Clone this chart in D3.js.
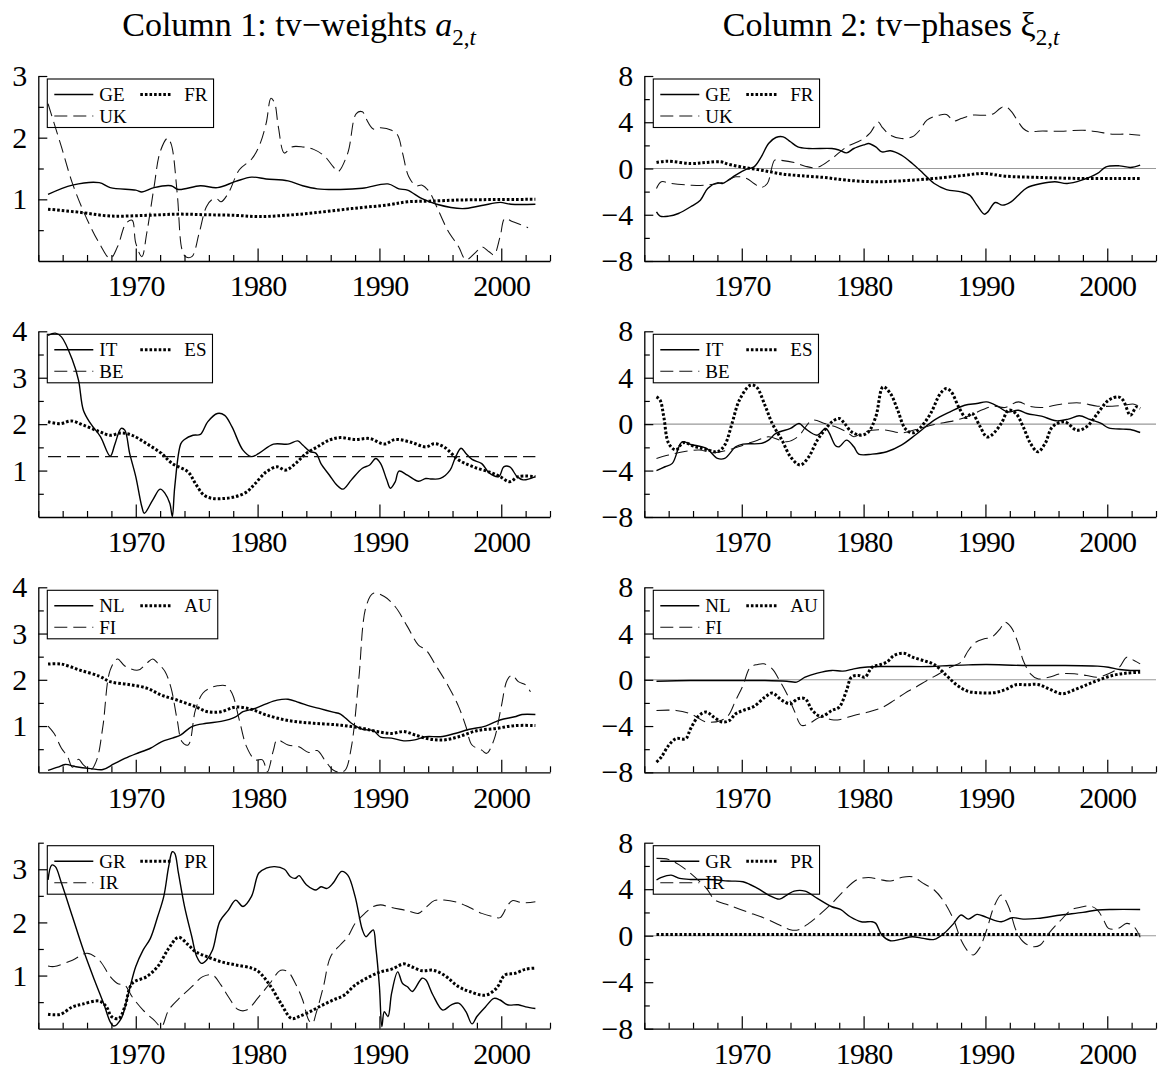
<!DOCTYPE html>
<html><head><meta charset="utf-8">
<script src="https://cdn.jsdelivr.net/npm/d3@7"></script>
<style>
body{margin:0;background:#fff}
text{font-family:"Liberation Serif","Times New Roman",serif;fill:#000}
</style>
</head><body>
<svg id="chart" width="1160" height="1071"></svg>
<script>
// ---------------- DATA (year, value) ----------------
const GE_a = [[1962.8,1.08],[1964.8,1.23],[1967.0,1.27],[1967.9,1.19],[1970,1.15],[1970.5,1.12],[1971.5,1.19],[1972.9,1.22],[1973.5,1.16],[1975.3,1.22],[1976.7,1.19],[1978.2,1.29],[1979.5,1.36],[1980.7,1.33],[1982.5,1.30],[1983.7,1.22],[1984.9,1.17],[1986.8,1.16],[1988.6,1.18],[1990.7,1.25],[1991.6,1.17],[1992.3,1.15],[1993.5,1.01],[1994.7,0.92],[1996.8,0.85],[1998.4,0.90],[1999.9,0.95],[2000.8,0.92],[2002.8,0.92]];
const FR_a = [[1962.8,0.84],[1965.4,0.79],[1967.9,0.73],[1970.9,0.74],[1973.4,0.76],[1975.8,0.75],[1978.2,0.74],[1980.1,0.72],[1982.2,0.74],[1984.6,0.78],[1987.7,0.85],[1990.7,0.91],[1992.3,0.96],[1994.1,0.97],[1996.8,0.99],[2002.8,1.0]];
const UK_a = [[1962.8,2.55],[1963.9,1.85],[1964.8,1.26],[1965.9,0.72],[1967,0.29],[1967.9,0.04],[1968.5,0.23],[1969.2,0.61],[1969.7,0.66],[1970,0.29],[1970.5,0.07],[1970.9,0.45],[1971.5,1.2],[1972,1.77],[1972.6,1.99],[1972.9,1.9],[1973.4,1.1],[1973.8,0.18],[1974.1,0.07],[1974.6,0.07],[1975.2,0.45],[1975.8,0.88],[1976.3,1.0],[1976.7,1.0],[1977,0.96],[1977.6,1.1],[1978.5,1.48],[1979.5,1.65],[1980.1,1.85],[1980.7,2.23],[1981.1,2.64],[1981.4,2.56],[1981.7,2.18],[1982.2,1.75],[1982.8,1.85],[1983.7,1.85],[1984.6,1.81],[1985.5,1.7],[1986.2,1.53],[1986.6,1.45],[1987.4,1.75],[1988.1,2.39],[1988.6,2.42],[1988.9,2.31],[1989.5,2.14],[1990.1,2.16],[1991,2.12],[1991.5,2.04],[1991.9,1.75],[1992.4,1.37],[1993,1.22],[1993.5,1.23],[1994.1,1.12],[1994.7,0.88],[1995.6,0.5],[1996.5,0.23],[1997.1,0.02],[1997.9,0.14],[1998.4,0.23],[1999,0.15],[1999.4,0.10],[1999.9,0.39],[2000.3,0.69],[2000.9,0.64],[2001.7,0.58],[2002.2,0.54]];

const GE_x = [[1963,-3.75],[1963.3,-4.12],[1964,-4.12],[1964.8,-3.89],[1965.8,-3.31],[1966.6,-2.74],[1967.2,-1.73],[1968,-1.24],[1968.4,-1.3],[1968.9,-1.01],[1969.5,-0.58],[1970.4,-0.06],[1971,0.14],[1971.6,1.01],[1972.2,2.16],[1972.8,2.68],[1973.4,2.74],[1974,2.31],[1974.6,1.87],[1975.5,1.73],[1977.4,1.73],[1978,1.59],[1978.6,1.35],[1979.2,1.73],[1980.1,2.07],[1980.4,2.16],[1981,1.87],[1981.5,1.44],[1982.2,1.53],[1983.1,1.15],[1984,0.43],[1984.9,-0.43],[1985.8,-1.3],[1986.8,-1.82],[1988,-2.02],[1988.7,-2.3],[1989.3,-3.17],[1989.9,-3.95],[1990.2,-3.75],[1990.8,-2.94],[1991.4,-3.17],[1992.1,-2.88],[1992.7,-2.31],[1993.4,-1.67],[1994.6,-1.3],[1995.7,-1.15],[1996.7,-1.3],[1997.9,-1.01],[1999.2,-0.43],[1999.9,0.14],[2001,0.23],[2001.9,0.09],[2002.7,0.29]];
const FR_x = [[1963,0.52],[1963.9,0.63],[1965.8,0.43],[1967.1,0.52],[1968.3,0.58],[1968.9,0.37],[1970.4,0.06],[1971.9,-0.2],[1973.4,-0.49],[1974.9,-0.63],[1976.8,-0.78],[1978.6,-1.01],[1981,-1.15],[1982.5,-1.1],[1984,-1.01],[1985.8,-0.86],[1988.3,-0.58],[1989.9,-0.43],[1991.6,-0.66],[1994.6,-0.78],[1997.7,-0.86],[2000.7,-0.86],[2002.7,-0.86]];
const UK_x = [[1963,-1.73],[1963.4,-1.15],[1964.2,-1.3],[1965.8,-1.44],[1967.1,-1.44],[1968.6,-1.15],[1969.5,-0.72],[1970.4,-0.86],[1971,-1.3],[1971.6,-1.64],[1972.1,-1.3],[1972.7,0.72],[1973.1,0.72],[1974.3,0.52],[1975.2,0.2],[1976.2,0.09],[1977.4,0.86],[1978.6,1.87],[1979.8,2.45],[1980.5,3.03],[1981.2,4.03],[1981.5,3.6],[1982.2,2.88],[1983.1,2.59],[1984,2.74],[1984.6,3.31],[1985.2,4.18],[1986.2,4.61],[1986.8,4.67],[1987.4,4.12],[1988,4.32],[1988.9,4.61],[1990.1,4.61],[1990.7,4.76],[1991.2,5.19],[1991.6,5.39],[1992.1,4.96],[1992.7,4.03],[1993.1,3.46],[1993.6,3.17],[1994.3,3.23],[1996.2,3.23],[1998,3.31],[1999.2,3.17],[2000.4,2.97],[2001.6,2.97],[2002.7,2.88]];

const IT_a = [[1962.8,3.91],[1963.4,3.96],[1963.9,3.88],[1964.8,3.38],[1965.3,2.95],[1965.7,2.3],[1966.3,2.01],[1967.1,1.73],[1967.9,1.31],[1968.3,1.58],[1968.8,1.91],[1969.1,1.87],[1969.5,1.37],[1970,0.87],[1970.5,0.22],[1970.7,0.08],[1971.4,0.37],[1972,0.6],[1972.4,0.51],[1972.8,0.29],[1973,0.01],[1973.2,0.65],[1973.7,1.58],[1974,1.67],[1974.7,1.76],[1975.3,1.78],[1975.9,2.05],[1976.7,2.23],[1977.3,2.19],[1977.9,1.94],[1978.8,1.44],[1979.5,1.3],[1980.1,1.37],[1981.3,1.57],[1982.5,1.57],[1983.3,1.64],[1983.7,1.55],[1984.3,1.41],[1984.8,1.37],[1985.2,1.15],[1985.9,0.9],[1986.5,0.69],[1987,0.6],[1987.7,0.8],[1988.6,1.05],[1989.2,1.12],[1989.7,1.26],[1990.1,1.15],[1990.6,0.8],[1990.9,0.62],[1991.3,0.76],[1991.6,0.99],[1992.3,0.9],[1993.2,0.77],[1993.8,0.83],[1994.2,0.82],[1995,0.83],[1995.8,1.01],[1996.2,1.26],[1996.7,1.48],[1997.1,1.37],[1997.6,1.24],[1998.4,1.15],[1999,0.95],[1999.8,0.87],[2000.2,1.08],[2000.7,1.08],[2001.3,0.87],[2001.8,0.8],[2002.8,0.87]];
const ES_a = [[1962.8,2.05],[1963.8,2.01],[1964.7,2.07],[1965.7,1.98],[1967,1.84],[1967.9,1.76],[1968.8,1.81],[1969.7,1.76],[1970.9,1.58],[1972.1,1.37],[1973,1.15],[1974.3,0.97],[1974.9,0.72],[1975.6,0.47],[1976.3,0.4],[1977.3,0.4],[1978.2,0.44],[1979.1,0.54],[1979.8,0.72],[1980.7,0.97],[1981.6,1.08],[1982.3,1.01],[1983.1,1.15],[1984,1.37],[1984.9,1.51],[1985.9,1.66],[1986.8,1.71],[1988,1.67],[1989.2,1.69],[1990.4,1.57],[1991.3,1.67],[1992.6,1.61],[1993.8,1.51],[1994.5,1.58],[1995.3,1.51],[1996.5,1.23],[1997.7,1.08],[1999,0.97],[1999.9,0.87],[2000.7,0.76],[2001.4,0.87],[2002.8,0.87]];
const BE_a = [[1962.8,1.3],[2002.8,1.3]];

const IT_x = [[1963,-4.01],[1963.7,-3.67],[1964.3,-3.38],[1965.1,-1.52],[1965.8,-1.75],[1967.1,-2.09],[1968,-2.95],[1968.6,-2.95],[1969.5,-1.95],[1970.1,-1.72],[1971.6,-1.66],[1972.2,-1.38],[1972.8,-0.8],[1974,-0.37],[1974.7,0.06],[1975.2,-0.37],[1976.2,-0.95],[1976.9,-0.37],[1977.7,-1.86],[1978,-1.95],[1978.6,-1.38],[1979.2,-1.95],[1979.6,-2.58],[1980.7,-2.58],[1981.9,-2.38],[1983.1,-1.81],[1984.3,-0.89],[1985.8,0.34],[1987.1,1.06],[1988.3,1.63],[1989.3,1.78],[1990.1,1.92],[1991,1.55],[1991.8,1.06],[1992.7,1.2],[1993.4,0.92],[1994.6,0.69],[1995.8,0.29],[1996.8,0.43],[1997.7,0.72],[1998.6,0.4],[1999.5,0.06],[2000.1,-0.32],[2001.3,-0.43],[2001.9,-0.46],[2002.7,-0.72]];
const ES_x = [[1963,2.35],[1963.3,2.06],[1963.6,0.63],[1964,-1.66],[1964.6,-2.23],[1965.2,-1.6],[1966.2,-1.95],[1967.1,-2.18],[1968,-2.38],[1968.6,-1.81],[1969.2,0.06],[1969.8,2.06],[1970.7,3.35],[1971.2,3.21],[1971.9,1.63],[1972.5,0.06],[1973.3,-1.38],[1974,-2.81],[1974.8,-3.52],[1975.5,-2.81],[1976.2,-1.38],[1976.8,-0.52],[1977.4,0.2],[1978,0.49],[1978.4,0.11],[1979,-0.66],[1979.8,-0.95],[1980.4,-0.66],[1981,0.63],[1981.6,3.21],[1982.2,2.64],[1982.8,1.2],[1983.4,-0.37],[1984,-0.75],[1984.6,-0.37],[1985.5,0.92],[1986.3,2.64],[1986.8,3.07],[1987.2,2.78],[1987.8,1.49],[1988.4,0.57],[1988.9,0.92],[1989.5,-0.09],[1990.1,-1.09],[1990.5,-0.95],[1991.3,0.06],[1991.9,1.2],[1992.5,0.92],[1993.1,-0.23],[1993.7,-1.66],[1994.3,-2.38],[1994.9,-1.66],[1995.5,-0.23],[1996.5,0.2],[1997.5,-0.52],[1998.3,-0.23],[1999.2,0.92],[2000.1,2.06],[2000.9,2.35],[2001.3,2.06],[2001.9,0.77],[2002.4,1.49],[2002.7,1.35]];
const BE_x = [[1963,-2.95],[1964,-2.66],[1965.2,-2.38],[1966.5,-2.23],[1967.7,-2.46],[1968.9,-2.23],[1970.1,-1.81],[1971.3,-1.38],[1972.2,-1.09],[1973.7,-1.52],[1974.6,-1.09],[1975.8,0.34],[1976.8,0.06],[1977.7,-0.23],[1978.6,-0.66],[1979.2,-1.09],[1979.8,-0.8],[1980.7,-0.52],[1981.9,-0.52],[1983.1,-0.75],[1984.3,-0.46],[1985.8,-0.03],[1987.4,0.29],[1988.6,0.69],[1989.8,1.26],[1990.7,1.55],[1991.6,1.43],[1992.7,1.92],[1993.6,1.55],[1994.6,1.43],[1996.2,1.72],[1997.7,1.83],[1999.2,1.55],[2000.4,1.55],[2001.3,1.63],[2002.2,1.72],[2002.7,1.49]];

const NL_a = [[1962.8,0.04],[1963.6,0.11],[1964.2,0.17],[1965.1,0.12],[1966.3,0.08],[1967.3,0.06],[1968.2,0.18],[1969.1,0.3],[1970,0.4],[1971.2,0.52],[1972.1,0.66],[1973,0.74],[1973.7,0.81],[1974.6,0.99],[1975.8,1.06],[1977,1.1],[1978.2,1.2],[1978.8,1.31],[1979.8,1.38],[1980.7,1.48],[1981.6,1.56],[1982.5,1.58],[1983.4,1.51],[1984.3,1.43],[1985.2,1.37],[1986.2,1.3],[1986.8,1.26],[1987.7,1.06],[1988.6,0.93],[1989.5,0.9],[1990.1,0.76],[1991,0.74],[1992,0.68],[1992.9,0.7],[1993.8,0.77],[1995,0.77],[1996.2,0.84],[1997.4,0.93],[1998.7,1.0],[1999.9,1.13],[2001.1,1.2],[2001.7,1.25],[2002.8,1.25]];
const AU_a = [[1962.8,2.34],[1963.9,2.34],[1965.4,2.21],[1967,2.08],[1967.9,1.96],[1969.4,1.9],[1970.9,1.82],[1972.1,1.67],[1973.4,1.56],[1974.9,1.42],[1975.9,1.31],[1977,1.31],[1978.2,1.41],[1979.5,1.36],[1980.7,1.24],[1982.5,1.12],[1984.6,1.06],[1986.8,1.02],[1988.6,0.95],[1989.8,0.88],[1991,0.84],[1992,0.88],[1992.9,0.81],[1994.1,0.72],[1995.3,0.7],[1996.5,0.77],[1998,0.9],[1999.6,0.95],[2001.1,1.01],[2002.8,1.01]];
const FI_a = [[1962.8,1.0],[1963.3,0.84],[1963.9,0.52],[1964.4,0.34],[1964.8,0.11],[1965.3,0.28],[1965.7,0.16],[1966.3,0.05],[1966.8,0.27],[1967.3,0.99],[1967.9,2.21],[1968.5,2.45],[1969.1,2.3],[1970.2,2.21],[1970.9,2.36],[1971.4,2.45],[1971.8,2.36],[1972.4,2.18],[1972.9,1.82],[1973.4,1.13],[1973.8,0.66],[1974.3,0.59],[1974.9,1.35],[1975.5,1.71],[1976.1,1.82],[1976.7,1.87],[1977.4,1.87],[1977.9,1.71],[1978.5,1.13],[1979.1,0.55],[1979.8,0.27],[1980.4,0.27],[1980.8,0.01],[1981.3,0.48],[1981.6,0.7],[1982.5,0.59],[1983.4,0.55],[1984.2,0.43],[1984.9,0.47],[1985.5,0.27],[1986.2,0.05],[1986.8,0.0],[1987.2,0.05],[1987.7,0.55],[1988.3,2.0],[1988.9,3.58],[1989.5,3.87],[1990.4,3.8],[1991.3,3.58],[1992.3,3.15],[1993.2,2.75],[1993.8,2.65],[1994.7,2.28],[1995.6,1.89],[1996.5,1.42],[1997.1,0.99],[1997.6,0.59],[1998.4,0.48],[1998.8,0.41],[1999.4,0.7],[2000,1.42],[2000.5,2.0],[2000.9,2.1],[2001.4,1.96],[2002,1.89],[2002.4,1.74]];

const NL_x = [[1963,-0.12],[1965.8,-0.06],[1968.9,-0.06],[1971.9,-0.06],[1973.7,-0.12],[1974.5,-0.2],[1975.2,0.23],[1976.2,0.58],[1977.4,0.81],[1978.3,0.75],[1979.2,0.95],[1980.1,1.09],[1981.3,1.15],[1983.1,1.15],[1985.5,1.15],[1987.1,1.24],[1988.6,1.29],[1990.1,1.32],[1993.1,1.24],[1996.2,1.24],[1999.2,1.18],[2000.1,1.09],[2001,0.89],[2001.9,0.81],[2002.7,0.81]];
const AU_x = [[1963,-7.11],[1963.4,-6.68],[1964,-5.67],[1964.6,-5.09],[1965.4,-5.09],[1965.8,-4.23],[1966.5,-3.08],[1967.1,-2.79],[1967.7,-3.22],[1968.4,-3.65],[1969,-3.51],[1969.5,-2.94],[1970.1,-2.65],[1971,-2.3],[1971.9,-1.5],[1972.5,-1.15],[1973.3,-1.78],[1974,-2.07],[1974.6,-1.64],[1975.2,-1.64],[1975.8,-2.65],[1976.5,-3.17],[1977.4,-2.65],[1978,-2.36],[1978.6,-0.92],[1979,0.23],[1979.6,0.37],[1980.1,0.23],[1980.7,1.09],[1981.3,1.29],[1981.9,1.53],[1982.5,2.1],[1983.3,2.3],[1984,1.96],[1984.9,1.67],[1985.8,1.32],[1986.8,0.37],[1987.7,-0.49],[1988.6,-1.01],[1989.5,-1.12],[1990.7,-1.12],[1991.6,-0.86],[1992.5,-0.43],[1993.4,-0.43],[1994.3,-0.4],[1995.2,-0.78],[1996.3,-1.21],[1997.3,-0.86],[1998.3,-0.43],[1999.2,-0.06],[2000.4,0.37],[2001.6,0.58],[2002.7,0.66]];
const FI_x = [[1963,-2.65],[1964.6,-2.65],[1965.8,-2.94],[1967.1,-3.65],[1968.3,-3.51],[1968.9,-3.08],[1969.5,-1.78],[1970.1,-0.49],[1970.7,1.09],[1971.3,1.32],[1971.8,1.38],[1972.5,0.95],[1973.1,-0.06],[1973.7,-1.21],[1974.3,-2.65],[1974.9,-3.94],[1975.5,-3.8],[1976.5,-3.22],[1977.4,-3.45],[1978,-3.45],[1979.2,-3.08],[1980.4,-2.79],[1981.6,-2.36],[1982.5,-1.78],[1983.4,-1.15],[1984.3,-0.63],[1985.2,-0.06],[1986.2,0.52],[1987.1,1.09],[1988,1.53],[1988.6,2.53],[1989.2,3.25],[1989.9,3.54],[1990.5,3.68],[1991.2,4.4],[1991.6,4.98],[1992.1,4.55],[1992.7,3.11],[1993.1,1.67],[1993.7,0.52],[1994.3,0.09],[1995.2,0.23],[1996.2,0.52],[1997.3,0.52],[1998.3,0.37],[1999.2,0.23],[2000.1,0.52],[2001,1.09],[2001.6,1.96],[2002.2,1.67],[2002.7,1.38]];

const GR_a = [[1962.8,2.8],[1963.1,3.08],[1963.4,3.05],[1963.9,2.74],[1964.8,2.11],[1965.7,1.48],[1966.6,0.92],[1967.4,0.45],[1967.9,0.13],[1968.2,0.05],[1968.8,0.19],[1969.4,0.67],[1970,1.17],[1970.6,1.48],[1971.2,1.7],[1971.8,2.11],[1972.3,2.49],[1972.7,3.05],[1973,3.33],[1973.2,3.3],[1973.5,2.93],[1974,2.3],[1974.6,1.73],[1975,1.36],[1975.4,1.23],[1975.8,1.29],[1976.3,1.48],[1976.9,2.02],[1977.6,2.23],[1978.2,2.42],[1978.8,2.3],[1979.5,2.49],[1980.1,2.93],[1980.7,3.02],[1981.4,3.05],[1982.2,3.0],[1982.7,2.86],[1983.1,2.83],[1983.4,2.88],[1984,2.71],[1984.8,2.61],[1985.2,2.67],[1985.7,2.64],[1986.2,2.74],[1986.9,2.96],[1987.4,2.89],[1988,2.49],[1988.6,1.86],[1988.9,1.73],[1989.2,1.8],[1989.5,1.86],[1989.7,1.54],[1990,0.79],[1990.2,0.04],[1990.4,0.32],[1990.7,0.23],[1991,0.67],[1991.5,1.07],[1991.9,0.85],[1992.3,0.79],[1992.7,0.7],[1993.5,0.95],[1993.8,0.92],[1994.4,0.63],[1995.2,0.35],[1995.9,0.45],[1996.5,0.48],[1997.1,0.32],[1997.6,0.09],[1998,0.23],[1998.7,0.41],[1999.4,0.57],[1999.9,0.54],[2000.5,0.45],[2001.4,0.45],[2002,0.41],[2002.8,0.38]];
const PR_a = [[1962.8,0.27],[1963.8,0.27],[1964.8,0.41],[1965.6,0.46],[1967,0.52],[1967.6,0.41],[1968,0.23],[1968.6,0.19],[1969.1,0.41],[1969.7,0.85],[1970.9,0.98],[1971.8,1.17],[1972.7,1.51],[1973.5,1.72],[1974.3,1.58],[1974.9,1.45],[1975.8,1.36],[1977,1.26],[1978.2,1.2],[1979.5,1.14],[1980.1,1.07],[1981,0.82],[1981.9,0.48],[1982.8,0.19],[1983.4,0.23],[1984.3,0.32],[1985.2,0.43],[1986.2,0.54],[1987.1,0.63],[1988,0.82],[1989.2,0.98],[1990.1,1.07],[1991,1.12],[1992,1.22],[1992.6,1.17],[1993.5,1.09],[1994.4,1.1],[1995.3,1.01],[1996.5,0.79],[1997.4,0.7],[1998.7,0.63],[1999.6,0.76],[2000.3,1.01],[2001.1,1.04],[2002,1.12],[2002.8,1.14]];
const IR_a = [[1962.8,1.18],[1963.3,1.17],[1964.8,1.29],[1966,1.42],[1967,1.29],[1967.9,0.98],[1968.5,0.85],[1969.1,0.82],[1969.7,0.6],[1970.6,0.35],[1971.5,0.16],[1972.1,0.04],[1972.7,0.35],[1973.7,0.6],[1974.6,0.79],[1975.5,0.98],[1976.3,1.01],[1977,0.82],[1977.6,0.6],[1978.4,0.36],[1979.1,0.35],[1980.1,0.6],[1981,0.85],[1981.9,1.1],[1982.5,1.07],[1983.1,0.85],[1983.7,0.54],[1984.2,0.16],[1984.5,0.1],[1984.8,0.29],[1985.4,0.79],[1986,1.36],[1986.8,1.58],[1987.4,1.73],[1988,1.98],[1988.8,2.17],[1989.5,2.3],[1990.1,2.33],[1991,2.28],[1992.3,2.22],[1993.2,2.17],[1993.8,2.28],[1994.5,2.41],[1995.3,2.42],[1996.5,2.37],[1997.4,2.28],[1998.4,2.17],[1999.3,2.11],[1999.9,2.09],[2000.5,2.31],[2000.9,2.41],[2001.7,2.37],[2002.8,2.39]];

const GR_x = [[1963,4.79],[1963.4,5.01],[1964.2,5.21],[1964.9,4.93],[1965.8,4.84],[1967.4,4.84],[1968.9,4.7],[1970.1,4.64],[1971.3,4.07],[1972.2,3.5],[1973.1,3.15],[1973.7,3.5],[1974.3,3.84],[1975.2,3.84],[1976.2,3.21],[1977.4,2.49],[1978.1,2.26],[1978.9,1.63],[1979.8,1.2],[1980.7,1.2],[1981,1.06],[1981.5,0.06],[1982.2,-0.43],[1983.1,-0.29],[1984,-0.09],[1984.9,-0.23],[1985.8,-0.32],[1986.6,0.2],[1987.4,1.06],[1988,1.78],[1988.6,1.43],[1989.3,1.83],[1990.1,1.58],[1991.3,1.2],[1992.2,1.55],[1993.1,1.43],[1994.3,1.49],[1996.2,1.78],[1998,2.01],[1999.2,2.21],[2000.4,2.26],[2002.7,2.26]];
const PR_x = [[1963,0.11],[2002.7,0.11]];
const IR_x = [[1963,6.65],[1964,6.56],[1964.9,6.07],[1965.8,5.36],[1967.1,4.07],[1967.8,3.07],[1968.9,2.64],[1970.4,2.06],[1971.9,1.49],[1973.1,0.92],[1973.9,0.54],[1974.6,0.49],[1975.5,1.06],[1976.5,1.92],[1977.4,2.78],[1978.3,3.78],[1979.5,4.84],[1980.4,5.01],[1981.3,4.84],[1982.2,4.7],[1983.1,5.01],[1984,5.07],[1984.9,4.5],[1985.8,3.93],[1986.6,2.92],[1987.4,1.35],[1988,-0.37],[1988.6,-1.38],[1989,-1.66],[1989.5,-1.09],[1990.1,0.49],[1990.7,2.49],[1991.3,3.5],[1991.9,2.49],[1992.5,0.49],[1993.1,-0.52],[1993.9,-0.95],[1994.5,-0.8],[1995.2,0.2],[1996.2,1.35],[1997.1,2.26],[1997.8,2.44],[1998.6,2.55],[1999.2,2.21],[1999.7,1.35],[2000.1,0.63],[2000.9,0.63],[2001.6,1.06],[2002.2,0.77],[2002.7,-0.14]];

// tick definitions
const xTicks = [1962,1964,1966,1968,1970,1972,1974,1976,1978,1980,1982,1984,1986,1988,1990,1992,1994,1996,1998,2000,2002,2004];
const xLabels = [1970,1980,1990,2000];
const wTicks3 = [0.5,1,1.5,2,2.5,3];
const wTicks35 = [0.5,1,1.5,2,2.5,3,3.5];
const wTicks4 = [0.5,1,1.5,2,2.5,3,3.5,4];
const wLabels = [1,2,3,4];
const pTicks = [-8,-6,-4,-2,0,2,4,6,8];
const pLabels = [-8,-4,0,4,8];

const titles = [
  {parts:[["Column 1: tv\u2212weights ",""],["a","i"],["2,","s"],["t","si"]]},
  {parts:[["Column 2: tv\u2212phases \u03BE",""],["2,","s"],["t","si"]]}
];

// ---------------- LAYOUT ----------------
const colX = [[38.3,550],[644.3,1156]];
const rowY = [[76,261],[331.3,517],[587.3,772.3],[842.7,1028.7]];

const panels = [
  {c:0,r:0,dom:[0,3],ticks:wTicks3,labels:wLabels,zero:false,s:[["GE",GE_a,"solid"],["FR",FR_a,"dot"],["UK",UK_a,"dash"]]},
  {c:1,r:0,dom:[-8,8],ticks:pTicks,labels:pLabels,zero:true,s:[["GE",GE_x,"solid"],["FR",FR_x,"dot"],["UK",UK_x,"dash"]]},
  {c:0,r:1,dom:[0,4],ticks:wTicks4,labels:wLabels,zero:false,s:[["IT",IT_a,"solid"],["ES",ES_a,"dot"],["BE",BE_a,"dash"]]},
  {c:1,r:1,dom:[-8,8],ticks:pTicks,labels:pLabels,zero:true,s:[["IT",IT_x,"solid"],["ES",ES_x,"dot"],["BE",BE_x,"dash"]]},
  {c:0,r:2,dom:[0,4],ticks:wTicks4,labels:wLabels,zero:false,s:[["NL",NL_a,"solid"],["AU",AU_a,"dot"],["FI",FI_a,"dash"]]},
  {c:1,r:2,dom:[-8,8],ticks:pTicks,labels:pLabels,zero:true,s:[["NL",NL_x,"solid"],["AU",AU_x,"dot"],["FI",FI_x,"dash"]]},
  {c:0,r:3,dom:[0,3.5],ticks:wTicks35,labels:wLabels,zero:false,s:[["GR",GR_a,"solid"],["PR",PR_a,"dot"],["IR",IR_a,"dash"]]},
  {c:1,r:3,dom:[-8,8],ticks:pTicks,labels:pLabels,zero:true,s:[["GR",GR_x,"solid"],["PR",PR_x,"dot"],["IR",IR_x,"dash"]]}
];

const styles = {
  solid:{w:1.4,dash:null,col:"#000"},
  dot:{w:3,dash:"2.6,2",col:"#000"},
  dash:{w:1.05,dash:"13,6",col:"#111"}
};

const svg = d3.select("#chart");

// titles
const titleCx = [299, 891];
titles.forEach((t,i)=>{
  const tx = svg.append("text").attr("x",titleCx[i]).attr("y",36)
    .attr("text-anchor","middle").style("font-size","34px");
  let sub=false;
  t.parts.forEach(([s,k])=>{
    const ts = tx.append("tspan").text(s);
    if(k.includes("i")) ts.style("font-style","italic");
    if(k.includes("s")){
      ts.style("font-size","23px");
      if(!sub){ts.attr("dy",9); sub=true;}
    }
  });
});

panels.forEach(p=>{
  const [x0,x1] = colX[p.c];
  const [yt,yb] = rowY[p.r];
  const x = d3.scaleLinear().domain([1962,2004]).range([x0,x1]);
  const y = d3.scaleLinear().domain(p.dom).range([yb,yt]);
  const g = svg.append("g");

  if(p.zero){
    g.append("line").attr("x1",x0).attr("x2",x1).attr("y1",y(0)).attr("y2",y(0))
      .attr("stroke","#999").attr("stroke-width",1.1);
  }

  // x axis
  const xa = d3.axisBottom(x).tickValues(xTicks).tickSizeOuter(0).tickSizeInner(-6)
    .tickPadding(14).tickFormat(d=>xLabels.includes(d)?d:"");
  const gx = g.append("g").attr("transform",`translate(0,${yb})`).call(xa);
  gx.selectAll(".tick line").attr("y2",d=>xLabels.includes(d)?-12.5:-6);
  // y axis
  const ya = d3.axisLeft(y).tickValues(p.ticks).tickSizeOuter(0).tickSizeInner(-9)
    .tickPadding(11).tickFormat(d=>p.labels.includes(d)?d3.format("")(d).replace("-","\u2212"):"");
  const gy = g.append("g").attr("transform",`translate(${x0},0)`).call(ya);
  gy.selectAll(".tick line").attr("x2",d=>p.labels.includes(d)?9:5.5);

  [gx,gy].forEach(a=>{
    a.select(".domain").attr("stroke","#000").attr("stroke-width",1.3);
    a.selectAll(".tick line").attr("stroke","#000").attr("stroke-width",1.2);
    a.selectAll("text").style("font-size","30px").attr("fill","#000")
      .style("font-family","'Liberation Serif','Times New Roman',serif");
  });
  gx.selectAll("text").attr("dy","0.71em").style("letter-spacing","-0.8px");

  // lines
  const line = d3.line().x(d=>x(d[0])).y(d=>y(d[1])).curve(d3.curveCatmullRom.alpha(0.5));
  p.s.forEach(([name,data,st])=>{
    const S = styles[st];
    g.append("path").datum(data).attr("d",line).attr("fill","none")
      .attr("stroke",S.col).attr("stroke-width",S.w)
      .attr("stroke-dasharray",S.dash).attr("stroke-linejoin","round");
  });

  // legend
  const bx = x0+9, by = yt+3;
  const lg = g.append("g").attr("transform",`translate(${bx},${by})`);
  const rows = [[p.s[0],7,46,52,15.5],[p.s[1],93,124,137,15.5],[p.s[2],7,46,52,37]];
  let maxR = 0;
  rows.forEach(([s,a,b,tx,ly])=>{
    const S = styles[s[2]];
    lg.append("line").attr("x1",a).attr("x2",b).attr("y1",ly).attr("y2",ly)
      .attr("stroke",S.col).attr("stroke-width",S.w).attr("stroke-dasharray",S.dash);
    const t = lg.append("text").attr("x",tx).attr("y",ly+6.5).text(s[0]).style("font-size","19px");
    maxR = Math.max(maxR, tx + t.node().getComputedTextLength());
  });
  lg.insert("rect",":first-child").attr("x",0).attr("y",0).attr("width",maxR+6).attr("height",48.5)
    .attr("fill","none").attr("stroke","#000").attr("stroke-width",1.1);
});
</script>
</body></html>
